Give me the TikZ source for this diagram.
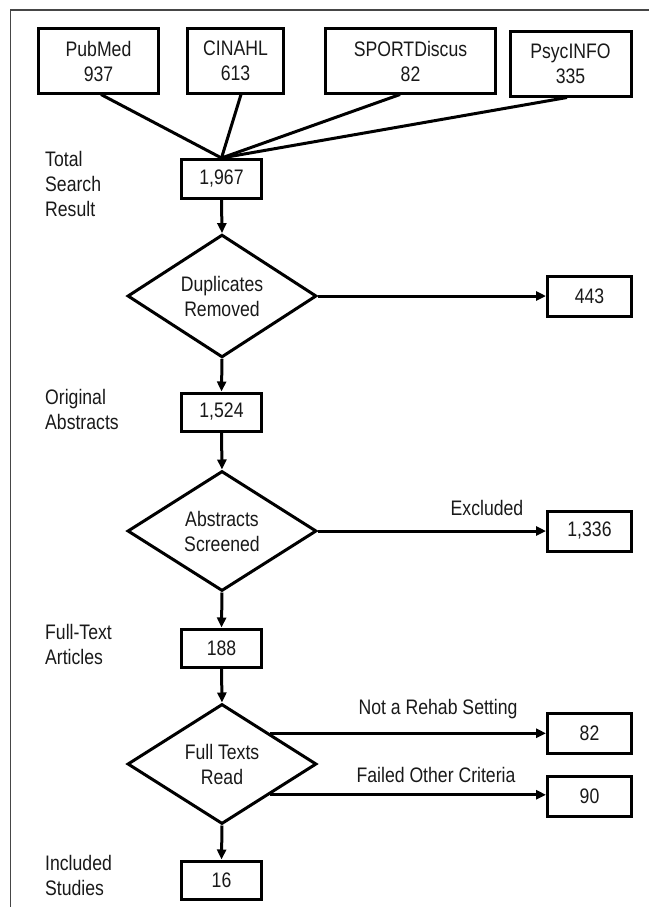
\documentclass[tikz,border=0pt]{standalone}
\usepackage{fontspec}
\setmainfont{Liberation Sans}[FakeStretch=0.84]
\usetikzlibrary{shapes.geometric,arrows.meta}
\begin{document}
\begin{tikzpicture}[x=1pt,y=-1pt,
  txt/.style={font=\fontsize{21}{25}\selectfont, text=black!90},
  box/.style={txt, draw, line width=3pt, inner sep=0pt, align=center, minimum width=80pt, minimum height=38pt},
  sidebox/.style={box, minimum width=84pt, minimum height=40pt},
  dia/.style={txt, draw, diamond, line width=3pt, inner sep=0pt, align=center, minimum width=189pt, minimum height=120pt},
  lbl/.style={txt, anchor=west, align=left, inner sep=0pt},
  elbl/.style={txt, inner sep=0pt},
  conn/.style={line width=3pt},
  arr/.style={conn, -{Triangle[length=10pt,width=9pt]}},
  frame/.style={line width=1.4pt, draw={rgb,255:red,70;green,70;blue,70}}
]
\useasboundingbox (0,0) rectangle (649,907);
\draw[frame] (10.5,907) -- (10.5,10) -- (649,10);

% source boxes
\node[box, minimum width=120pt, minimum height=64pt] (pub) at (98.5,61) {PubMed\\937};
\node[box, minimum width=96pt, minimum height=64pt] (cin) at (235.5,61) {CINAHL\\613};
\node[box, minimum width=170pt, minimum height=64pt] (spo) at (410.5,61) {SPORTDiscus\\82};
\node[box, minimum width=121pt, minimum height=64pt] (psy) at (570.5,64) {PsycINFO\\335};

% spine
\node[box, minimum height=39pt] (tot) at (221.5,179) {1,967};
\draw[conn] ([xshift=2.5pt]pub.south) -- (tot.north);
\draw[conn] ([xshift=5.5pt]cin.south) -- (tot.north);
\draw[conn] ([xshift=-10.5pt]spo.south) -- (tot.north);
\draw[conn] ([xshift=-3.5pt]psy.south) -- (tot.north);

\node[dia] (d1) at (222,296) {Duplicates\\Removed};
\node[sidebox] (rem) at (589.5,296) {443};
\draw[arr] (tot.south) -- (d1.north);
\draw[arr] (d1.east) -- (rem.west);

\node[box] (abs) at (221.5,412) {1,524};
\draw[arr] (d1.south) -- (abs.north);

\node[dia] (d2) at (222,531) {Abstracts\\Screened};
\node[sidebox] (exc) at (589.5,531) {1,336};
\draw[arr] (abs.south) -- (d2.north);
\draw[arr] (d2.east) -- (exc.west);
\node[elbl] (excl) at (487,508) {Excluded};

\node[box] (ft) at (221.5,648) {188};
\draw[arr] (d2.south) -- (ft.north);

\node[dia] (d3) at (222,764) {Full Texts\\Read};
\draw[arr] (ft.south) -- (d3.north);
\node[sidebox] (nr) at (589.5,733.5) {82};
\node[sidebox] (oc) at (589.5,796) {90};
\draw[arr] (d3.north east) -- (d3.north east -| nr.west);
\draw[arr] (d3.south east) -- (d3.south east -| oc.west);
\node[elbl] (nrl) at (438,709) {Not a Rehab Setting};
\node[elbl] (ocl) at (436,775) {Failed Other Criteria};

\node[box] (inc) at (221.5,880) {16};
\draw[arr] (d3.south) -- (inc.north);

% left labels
\node[lbl] (l1) at (45,183.5) {Total\\Search\\Result};
\node[lbl] (l2) at (45,409) {Original\\Abstracts};
\node[lbl] (l3) at (45,644) {Full-Text\\Articles};
\node[lbl] (l4) at (45,875) {Included\\Studies};
\end{tikzpicture}
\end{document}
